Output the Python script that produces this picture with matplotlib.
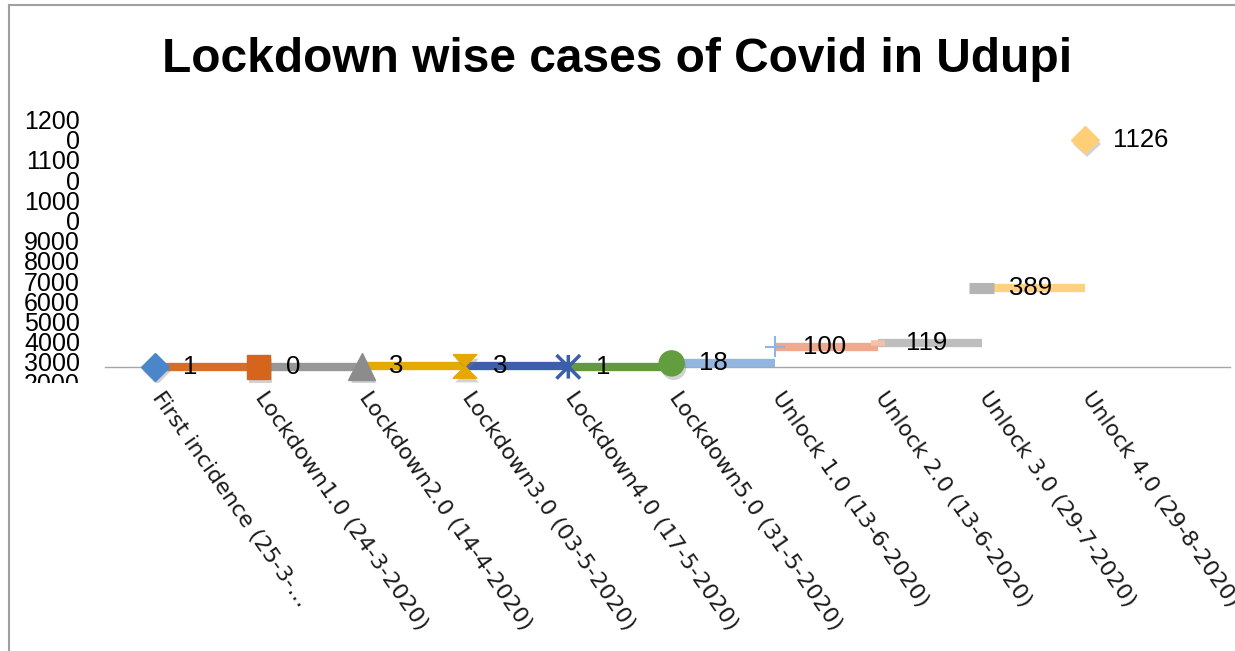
import matplotlib
matplotlib.use("Agg")
import matplotlib.pyplot as plt
import matplotlib.patheffects as pe
from matplotlib.path import Path
from matplotlib.lines import Line2D
from matplotlib.transforms import ScaledTranslation, Bbox, TransformedBbox

phases = [
    "First incidence (25-3-…",
    "Lockdown1.0 (24-3-2020)",
    "Lockdown2.0 (14-4-2020)",
    "Lockdown3.0 (03-5-2020)",
    "Lockdown4.0 (17-5-2020)",
    "Lockdown5.0 (31-5-2020)",
    "Unlock 1.0 (13-6-2020)",
    "Unlock 2.0 (13-6-2020)",
    "Unlock 3.0 (29-7-2020)",
    "Unlock 4.0 (29-8-2020)",
]
cases = [1, 0, 3, 3, 1, 18, 100, 119, 389, 1126]

# value-axis labels, bottom to top, as they come out of the spreadsheet
ytick_labels = ["2000", "3000", "4000", "5000", "6000", "7000", "8000",
                "9000", "0", "1000", "0", "1100", "0", "1200"]
ytick_start = -75
ytick_step = 100

point_colors = ["#4A86C8", "#D5651D", "#8C8C8C", "#E5A800", "#3B5EAB",
                "#639E3E", "#8EB4E3", "#F6BFA6", "#B4B4B4", "#FFCF78"]
line_colors = ["#4A86C8", "#D66D28", "#979797", "#E3AA00", "#3D5FA9",
               "#62993F", "#93B6E0", "#F0A98C", "#BEBEBE", "#FFD181"]

hourglass = Path([(-1, 1), (1, 1), (0, 0), (1, -1), (-1, -1), (0, 0), (-1, 1)])
star = Path([(0, 1), (0, -1), (-1, 1), (1, -1), (-1, -1), (1, 1)],
            [Path.MOVETO, Path.LINETO] * 3)

marker_styles = [
    dict(marker="D", ms=14),
    dict(marker="s", ms=17),
    dict(marker="^", ms=19),
    dict(marker=hourglass, ms=17),
    dict(marker=star, ms=17, mfc="none", mew=2.5),
    dict(marker="o", ms=18),
    dict(marker="+", ms=15, mew=1.5),
    dict(marker="_", ms=10, mew=4),
    dict(marker="_", ms=18, mew=8),
    dict(marker="D", ms=14),
]

W, H = 1235, 651
fig = plt.figure(figsize=(W / 100, H / 100), dpi=100)
ax = fig.add_axes([105 / W, 1 - 383 / H, (1230 - 105) / W, (383 - 100) / H])

step_px = 103.33
ax.set_xlim((105 - 155) / step_px, (1230 - 155) / step_px)
ax.set_ylim(-79.2, 1321.6)

mark_fx = [pe.SimplePatchShadow(offset=(1.5, -3), shadow_rgbFace="#808080", alpha=0.35), pe.Normal()]

x = list(range(len(cases)))
# each segment sits at the level of the phase it leaves, coloured like the next one
for i in range(len(cases) - 1):
    ax.plot([x[i], x[i + 1]], [cases[i], cases[i]], color=line_colors[i + 1],
            lw=6, solid_capstyle="butt", zorder=2)

for i, v in enumerate(cases):
    st = dict(marker_styles[i])
    st.setdefault("mfc", point_colors[i])
    st["mec"] = point_colors[i]
    ax.plot([x[i]], [v], linestyle="none", zorder=3, path_effects=mark_fx, **st)
    ax.annotate(str(v), (x[i], v), xytext=(20, 0), textcoords="offset points",
                ha="left", va="center", fontsize=18.5, family="Liberation Sans",
                color="black", zorder=5)

for side in ["top", "right", "left"]:
    ax.spines[side].set_visible(False)
ax.spines["bottom"].set_position(("data", 0))
ax.spines["bottom"].set_color("#A6A6A6")
ax.spines["bottom"].set_linewidth(1)
ax.spines["bottom"].set_zorder(1)

ax.set_xticks(x)
ax.set_xticklabels(phases, fontsize=16, family="DejaVu Sans", color="#1a1a1a")
ax.tick_params(axis="x", length=0, pad=15)
shift = ScaledTranslation(7 / 72, 0, fig.dpi_scale_trans)
for lbl in ax.get_xticklabels():
    lbl.set_rotation(-55)
    lbl.set_ha("left")
    lbl.set_va("top")
    lbl.set_rotation_mode("anchor")
    lbl.set_transform(lbl.get_transform() + shift)

yt = [ytick_start + ytick_step * k for k in range(len(ytick_labels))]
ax.set_yticks(yt)
ax.set_yticklabels(ytick_labels, fontsize=18, family="Liberation Sans", color="black")
ax.tick_params(axis="y", length=0, pad=18)
clip = TransformedBbox(Bbox.from_extents(0, 1 - 383 / H, 1, 1), fig.transFigure)
for lbl in ax.get_yticklabels():
    lbl.set_clip_on(True)
    lbl.set_clip_box(clip)

fig.text(617 / W, 1 - 60 / H, "Lockdown wise cases of Covid in Udupi",
         ha="center", va="center", fontsize=34.5, fontweight="bold",
         family="Liberation Sans")

# chart frame, top and left edges only
fig.add_artist(Line2D([9 / W, 1], [1 - 4.5 / H, 1 - 4.5 / H], transform=fig.transFigure,
                      color="#A0A0A0", lw=1.5))
fig.add_artist(Line2D([9 / W, 9 / W], [0, 1 - 4.5 / H], transform=fig.transFigure,
                      color="#A0A0A0", lw=1.5))

fig.savefig("out.png", dpi=100)
